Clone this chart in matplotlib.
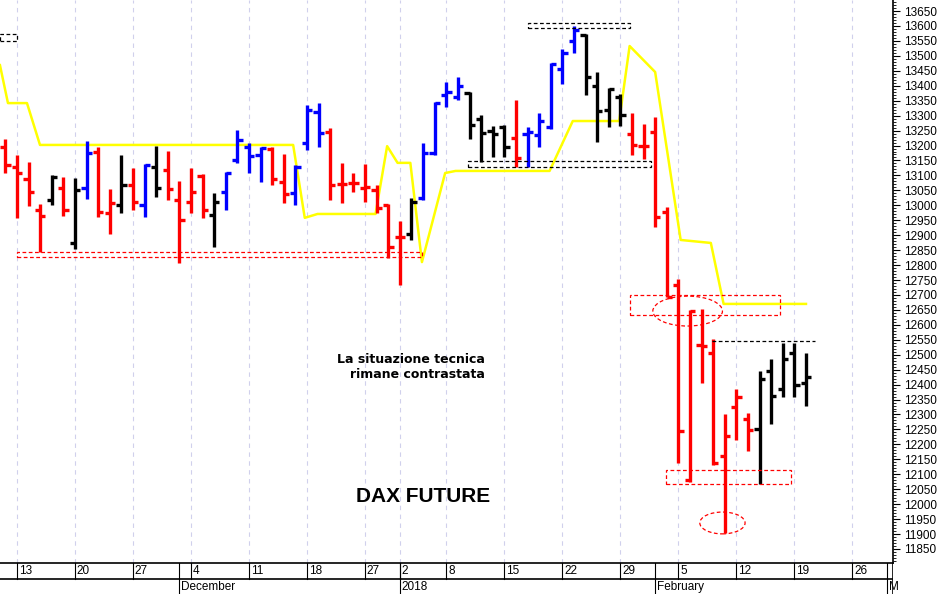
import matplotlib
matplotlib.use("Agg")
import matplotlib.pyplot as plt
from matplotlib.patches import Rectangle, Ellipse
import numpy as np

plt.rcParams['font.family'] = ['Liberation Sans', 'DejaVu Sans']

# trading-day index (0 = 13 Nov 2017)
idx = list(range(-1, 69))
opens = [13195,13128,13088,12984,13018,13058,12874,13058,13178,12974,13001,13068,13001,13128,13118,13018,13011,13098,12968,13045,
         13152,13195,13168,13188,13078,13041,13208,13312,13245,13071,13075,13058,13051,13001,12894,12904,13024,13175,13369,13362,
         13376,13289,13249,13262,13225,13239,13235,13262,13456,13550,13570,13399,13319,13362,13239,13198,13245,12978,12733,12081,
         12533,12506,12161,12325,12285,12252,12446,12385,12506,12406]
highs = [13222,13168,13145,13004,13101,13095,13091,13215,13195,13055,13168,13125,13138,13198,13182,13081,13125,13105,13041,13111,
         13252,13208,13195,13195,13172,13135,13336,13342,13259,13142,13108,13138,13068,13004,12948,13024,13208,13346,13413,13429,
         13379,13302,13265,13269,13352,13262,13309,13476,13523,13600,13573,13446,13393,13372,13309,13272,13296,12994,12753,12650,
         12653,12553,12302,12385,12305,12446,12486,12539,12539,12506]
lows = [13108,12958,12998,12844,13001,12964,12854,13021,12961,12904,12974,12984,12961,13028,13018,12807,12974,12958,12860,12984,
        13142,13108,13078,13068,13008,13001,13185,13195,13018,13008,13045,13011,12974,12824,12733,12884,13018,13168,13329,13352,
        13222,13145,13162,13162,13128,13128,13195,13255,13406,13510,13369,13212,13262,13265,13168,13155,12927,12693,12138,12074,
        12405,12131,11904,12215,12178,12067,12268,12359,12359,12329]
closes = [13135,13108,13045,12964,13095,12984,13051,13175,12978,13008,13068,13011,13135,13058,13055,12951,13045,12984,13011,13108,
          13219,13165,13192,13088,13038,13128,13319,13242,13068,13071,13075,13061,12991,12861,12894,13011,13175,13342,13379,13399,
          13269,13242,13239,13195,13158,13245,13282,13473,13510,13587,13429,13316,13389,13302,13202,13198,12961,12693,12245,12646,
          12529,12138,12228,12358,12248,12419,12362,12486,12399,12426]
# 'r' red, 'k' black, 'b' blue
colors = list("rrrrkrkbrrkrbkrrrrkbbbbrrbbbrrrrrrrkbbbbkkkkrbbbbbkkkk" + "r" * 11 + "k" * 5)
cmap = {'r': '#ff0000', 'k': '#000000', 'b': '#0000ff'}

yel_x = [-1.47,-0.78,0.86,1.98,23.8,24.8,25.9,30.9,31.9,32.8,33.9,34.9,36.9,37.8,45.9,47.9,51.9,52.8,55.0,57.2,59.8,60.9,68.0]
yel_y = [13469,13342,13342,13202,13202,12958,12971,12971,13198,13142,13142,12810,13108,13115,13115,13282,13282,13533,13446,12884,12874,12670,12670]

week_idx = [0,5,10,15,20,25,30,33,37,42,47,52,57,62,67,72]
week_lab = ["13","20","27","4","11","18","27","2","8","15","22","29","5","12","19","26"]
month_idx = [14,33,55,75]
month_lab = ["December","2018","February","M"]

fig = plt.figure(figsize=(9.41,5.94), dpi=100)
W, H = 941, 594
ax = fig.add_axes([0, 31/H, 893/W, 563/H])
ax2 = fig.add_axes([0, 0, 893/W, 31/H])
xlim = (-1.466, 75.5)
ax.set_xlim(*xlim); ax.set_ylim(11803, 13687)
ax2.set_xlim(*xlim); ax2.set_ylim(0, 2)

for w in week_idx:
    ax.axvline(w, color='#d0d0ec', lw=0.8, ls=(0,(4,4)), zorder=0)

ax.plot(yel_x, yel_y, color='#ffff00', lw=1.8, zorder=2)

tw = 0.45
cs = [cmap[c] for c in colors]
ax.vlines(idx, lows, highs, colors=cs, lw=2.4, zorder=3)
ax.hlines(opens, np.array(idx)-tw, idx, colors=cs, lw=2.4, zorder=3)
ax.hlines(closes, idx, np.array(idx)+tw, colors=cs, lw=2.4, zorder=3)

def rect(x0, x1, y0, y1, c):
    ax.add_patch(Rectangle((x0, y0), x1-x0, y1-y0, fill=False, ec=c, lw=0.9, ls=(0,(3,2)), zorder=4))
rect(0, 34.9, 12827, 12844, '#ff0000')
rect(-1.5, 0, 13550, 13573, '#000000')
rect(44.0, 52.8, 13593, 13610, '#000000')
rect(38.9, 54.6, 13128, 13148, '#000000')
rect(52.8, 65.8, 12633, 12700, '#ff0000')
rect(55.9, 66.7, 12067, 12114, '#ff0000')
ax.plot([59.9, 68.8], [12546, 12546], color='k', lw=0.9, ls=(0,(3,2)), zorder=4)
ax.add_patch(Ellipse((57.8, 12646), 6.0, 100, fill=False, ec='#ff0000', lw=0.9, ls=(0,(3,2)), zorder=4))
ax.add_patch(Ellipse((60.8, 11937), 3.9, 73, fill=False, ec='#ff0000', lw=0.9, ls=(0,(3,2)), zorder=4))

ax.text(40.3, 12459, "La situazione tecnica\nrimane contrastata", fontsize=9, fontweight='bold',
        family='DejaVu Sans', ha='right', va='center', multialignment='right', linespacing=1.25)
ax.text(35.0, 12027, "DAX FUTURE", fontsize=15, fontweight='bold', ha='center', va='center')

ax.set_xticks([])
ax.yaxis.tick_right()
ax.set_yticks(np.arange(11850, 13651, 50))
ax.set_yticks(np.arange(11810, 13687, 10), minor=True)
ax.tick_params(axis='y', which='major', length=5, labelsize=8.5, pad=3, direction='out')
ax.tick_params(axis='y', which='minor', length=2.5, direction='out')
for s in ['left', 'top']:
    ax.spines[s].set_visible(False)
ax.spines['right'].set_linewidth(1.2)
ax.spines['bottom'].set_linewidth(1.2)

ax2.axis('off')
ax2.axhline(1, color='k', lw=1.2)
ax2.axvline(xlim[1], color='k', lw=1.2)
for w, l in zip(week_idx, week_lab):
    ax2.plot([w, w], [1, 2], color='k', lw=0.8)
    ax2.text(w+0.15, 1.5, l, fontsize=8.5, ha='left', va='center')
for m, l in zip(month_idx, month_lab):
    ax2.plot([m, m], [0, 2], color='k', lw=0.8)
    ax2.text(m+0.15, 0.45, l, fontsize=8.5, ha='left', va='center')

fig.savefig("out.png", dpi=100)
